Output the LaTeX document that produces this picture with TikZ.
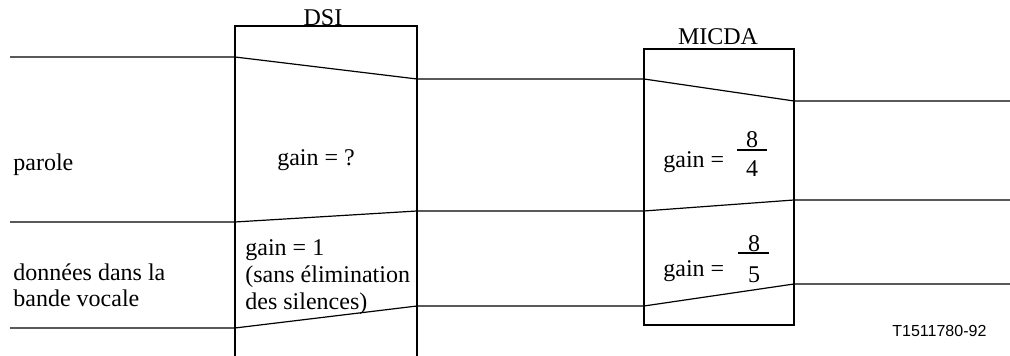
\documentclass[tikz,border=0pt]{standalone}
\usepackage{fontspec}
\setmainfont{Liberation Serif}
\setsansfont{Liberation Sans}
\begin{document}
\begin{tikzpicture}[x=0.5pt,y=-0.5pt,
  line/.style={line width=0.6pt,black},
  txt/.style={inner sep=0pt,anchor=base west,font=\fontsize{12}{13}\selectfont},
  ctxt/.style={inner sep=0pt,anchor=base,font=\fontsize{12}{13}\selectfont},
  bar/.style={line width=0.8pt,black}]
\useasboundingbox (0,0) rectangle (1010,356);
% coordinates for boxes
\coordinate (dslb) at (235,356);
\coordinate (dslt) at (235,26);
\coordinate (dsrt) at (417,26);
\coordinate (dsrb) at (417,356);
\coordinate (mlt) at (644,49);
\coordinate (mrb) at (794,325);
% boxes
\draw[line] (dslb) -- (dslt) -- (dsrt) -- (dsrb);
\draw[line] (mlt) rectangle (mrb);
% labels of boxes
\node[ctxt] (dsi) at (323,26) {DSI};
\node[ctxt] (micda) at (718,45) {MICDA};
% signal lines
\coordinate (a0) at (10,57);   \coordinate (a1) at (235,57);
\coordinate (a2) at (417,79);  \coordinate (a3) at (644,79);
\coordinate (a4) at (794,101); \coordinate (a5) at (1010,101);
\draw[line] (a0) -- (a1) -- (a2) -- (a3) -- (a4) -- (a5);
\coordinate (b0) at (10,222);  \coordinate (b1) at (235,222);
\coordinate (b2) at (417,211); \coordinate (b3) at (644,211);
\coordinate (b4) at (794,200); \coordinate (b5) at (1010,200);
\draw[line] (b0) -- (b1) -- (b2) -- (b3) -- (b4) -- (b5);
\coordinate (c0) at (10,328);  \coordinate (c1) at (235,328);
\coordinate (c2) at (417,306); \coordinate (c3) at (644,306);
\coordinate (c4) at (794,284); \coordinate (c5) at (1010,284);
\draw[line] (c0) -- (c1) -- (c2) -- (c3) -- (c4) -- (c5);
% left texts
\node[txt] (parole) at (13,171) {parole};
\node[txt] (don1) at (13,281) {données dans la};
\node[txt] (don2) at (13,307) {bande vocale};
% DSI texts
\node[ctxt] (gq) at (316,166) {gain = ?};
\node[txt] (g1) at (245,256) {gain = 1};
\node[txt] (g2) at (245,283) {(sans élimination};
\node[txt] (g3) at (245,310) {des silences)};
% MICDA texts
\node[txt] (gm1) at (663,168) {gain =};
\node[ctxt] (n1) at (752,148) {8};
\draw[bar] (737,150) -- (767,150);
\node[ctxt] (d1) at (752,177) {4};
\node[txt] (gm2) at (663,277) {gain =};
\node[ctxt] (n2) at (754,252) {8};
\draw[bar] (738,253) -- (769,253);
\node[ctxt] (d2) at (754,283) {5};
% reference
\node[inner sep=0pt,anchor=base west,font=\sffamily\fontsize{8}{9}\selectfont] (ref) at (892,337) {T1511780-92};
\end{tikzpicture}
\end{document}
